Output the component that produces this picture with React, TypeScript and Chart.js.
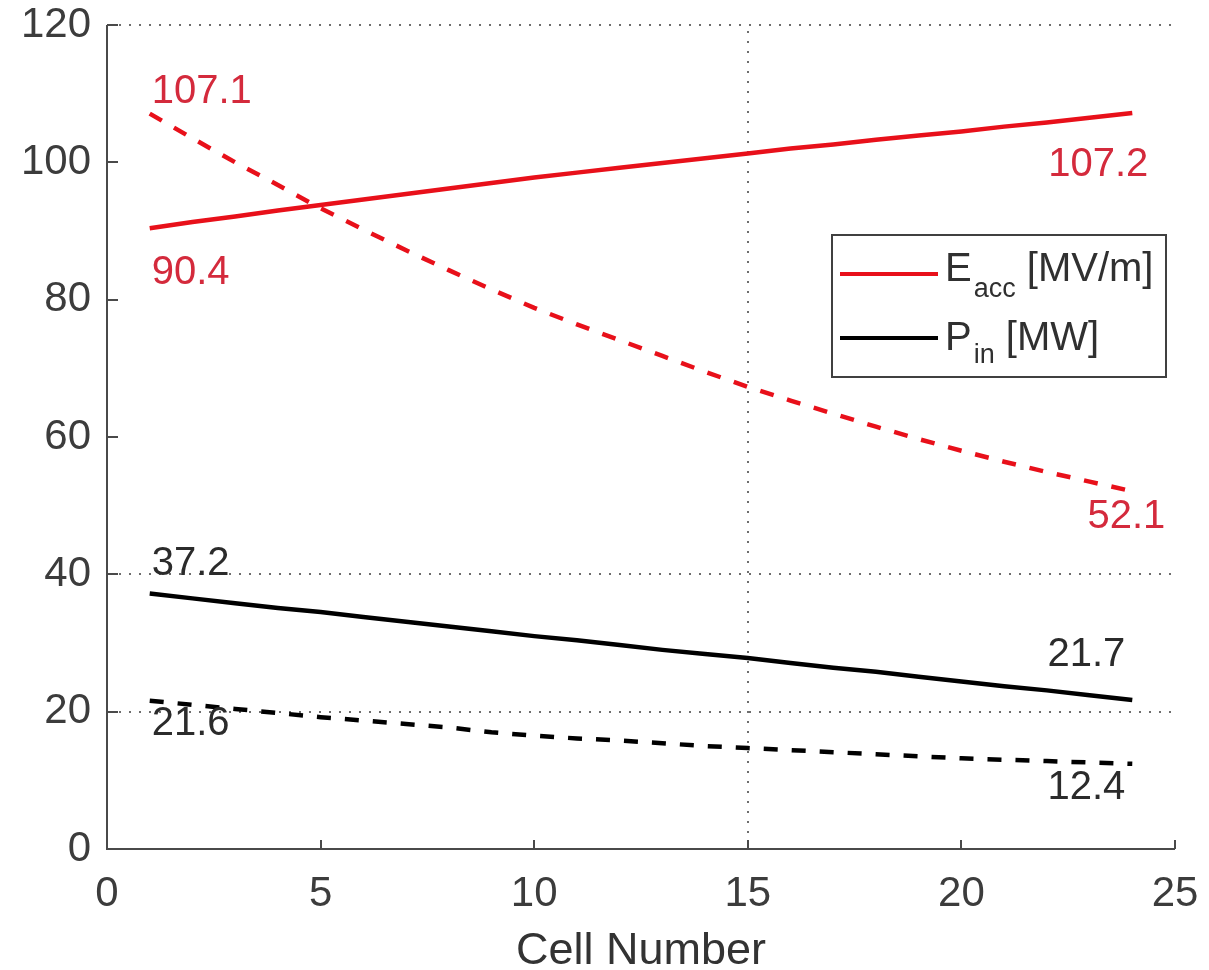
import React, { useEffect, useRef } from "react";
import { Chart, registerables } from "chart.js";

Chart.register(...registerables);

// ---------- data ----------
const cells = [1, 2, 3, 4, 5, 6, 7, 8, 9, 10, 11, 12, 13, 14, 15, 16, 17, 18, 19, 20, 21, 22, 23, 24];
const eaccSolid = [90.4, 91.3, 92.1, 93.0, 93.8, 94.6, 95.4, 96.2, 97.0, 97.8, 98.5, 99.2, 99.9, 100.6, 101.3, 102.0, 102.6, 103.3, 103.9, 104.5, 105.2, 105.8, 106.5, 107.2];
const eaccDashed = [107.1, 103.5, 100.0, 96.7, 93.3, 90.2, 87.2, 84.3, 81.5, 78.8, 76.4, 74.1, 71.8, 69.5, 67.3, 65.3, 63.4, 61.5, 59.7, 58.0, 56.4, 54.9, 53.5, 52.1];
const pinSolid = [37.2, 36.5, 35.8, 35.1, 34.5, 33.8, 33.1, 32.4, 31.7, 31.0, 30.4, 29.7, 29.0, 28.4, 27.8, 27.1, 26.4, 25.8, 25.1, 24.4, 23.7, 23.1, 22.4, 21.7];
const pinDashed = [21.6, 21.0, 20.4, 19.8, 19.2, 18.7, 18.2, 17.7, 17.0, 16.5, 16.1, 15.8, 15.4, 15.0, 14.7, 14.4, 14.1, 13.8, 13.5, 13.2, 13.0, 12.8, 12.6, 12.4];

const xTicks = [0, 5, 10, 15, 20, 25];
const yTicks = [0, 20, 40, 60, 80, 100, 120];
const gridXValues = [15];
const gridYValues = [20, 40, 120];

const xTitle = "Cell Number";
const legendEacc = { main: "E", sub: "acc", unit: " [MV/m]" };
const legendPin = { main: "P", sub: "in", unit: " [MW]" };

// end-point value labels: dataset index, point index, text
const endLabels = [
  { ds: 1, idx: 0, text: "107.1" },
  { ds: 0, idx: 0, text: "90.4" },
  { ds: 0, idx: 23, text: "107.2" },
  { ds: 1, idx: 23, text: "52.1" },
  { ds: 2, idx: 0, text: "37.2" },
  { ds: 3, idx: 0, text: "21.6" },
  { ds: 2, idx: 23, text: "21.7" },
  { ds: 3, idx: 23, text: "12.4" },
];

// ---------- styling / placement (not data) ----------
const FONT = '"Liberation Sans", Arial, Helvetica, sans-serif';
const RED = "#e8101a";
const BLACK = "#000000";
const RED_TEXT = "#d42a3c";
const DARK_TEXT = "#2b2b2b";

const labelPlacement: Record<string, { dx: number; dy: number; align: CanvasTextAlign; color: string }> = {
  "1-0": { dx: 2, dy: -22, align: "left", color: RED_TEXT },
  "0-0": { dx: 2, dy: 45, align: "left", color: RED_TEXT },
  "0-23": { dx: 16, dy: 52, align: "right", color: RED_TEXT },
  "1-23": { dx: 33, dy: 26, align: "right", color: RED_TEXT },
  "2-0": { dx: 2, dy: -30, align: "left", color: DARK_TEXT },
  "3-0": { dx: 2, dy: 23, align: "left", color: DARK_TEXT },
  "2-23": { dx: -7, dy: -45, align: "right", color: DARK_TEXT },
  "3-23": { dx: -7, dy: 24, align: "right", color: DARK_TEXT },
};

const framePlugin = {
  id: "frame",
  beforeDatasetsDraw(chart: any) {
    const { ctx, chartArea: ca, scales } = chart;
    const x = scales.x;
    const y = scales.y;
    ctx.save();
    // dotted grid lines
    ctx.strokeStyle = "#6e6e6e";
    ctx.lineWidth = 2;
    ctx.setLineDash([2, 8]);
    gridYValues.forEach((v) => {
      const py = Math.round(y.getPixelForValue(v));
      ctx.beginPath();
      ctx.moveTo(ca.left + 12, py);
      ctx.lineTo(ca.right - 2, py);
      ctx.stroke();
    });
    gridXValues.forEach((v) => {
      const px = Math.round(x.getPixelForValue(v));
      ctx.beginPath();
      ctx.moveTo(px, ca.top + 6);
      ctx.lineTo(px, ca.bottom);
      ctx.stroke();
    });
    ctx.setLineDash([]);
    // axes
    ctx.strokeStyle = "#4a4a4a";
    ctx.lineWidth = 2;
    ctx.beginPath();
    ctx.moveTo(ca.left, ca.top);
    ctx.lineTo(ca.left, ca.bottom);
    ctx.lineTo(ca.right, ca.bottom);
    ctx.stroke();
    // inward tick marks
    xTicks.slice(1).forEach((v) => {
      const px = Math.round(x.getPixelForValue(v));
      ctx.beginPath();
      ctx.moveTo(px, ca.bottom);
      ctx.lineTo(px, ca.bottom - 9);
      ctx.stroke();
    });
    yTicks.slice(1).forEach((v) => {
      const py = Math.round(y.getPixelForValue(v));
      ctx.beginPath();
      ctx.moveTo(ca.left, py);
      ctx.lineTo(ca.left + 11, py);
      ctx.stroke();
    });
    ctx.restore();
  },
  afterDatasetsDraw(chart: any) {
    const { ctx } = chart;
    ctx.save();
    // end-point labels
    ctx.font = `40px ${FONT}`;
    ctx.textBaseline = "middle";
    endLabels.forEach((l) => {
      const p = labelPlacement[`${l.ds}-${l.idx}`];
      const pt = chart.getDatasetMeta(l.ds).data[l.idx];
      ctx.fillStyle = p.color;
      ctx.textAlign = p.align;
      ctx.fillText(l.text, pt.x + p.dx, pt.y + p.dy);
    });
    // legend box
    const bx = 832, by = 235, bw = 334, bh = 142;
    ctx.fillStyle = "#ffffff";
    ctx.fillRect(bx, by, bw, bh);
    ctx.strokeStyle = "#404040";
    ctx.lineWidth = 2;
    ctx.strokeRect(bx, by, bw, bh);
    const entries = [
      { color: RED, lineY: 274, base: 281, subBase: 297, t: legendEacc },
      { color: BLACK, lineY: 338, base: 350, subBase: 363, t: legendPin },
    ];
    entries.forEach((e) => {
      ctx.strokeStyle = e.color;
      ctx.lineWidth = 4;
      ctx.beginPath();
      ctx.moveTo(840, e.lineY);
      ctx.lineTo(938, e.lineY);
      ctx.stroke();
      ctx.fillStyle = "#303030";
      ctx.textAlign = "left";
      ctx.textBaseline = "alphabetic";
      let tx = 945;
      ctx.font = `40px ${FONT}`;
      ctx.fillText(e.t.main, tx, e.base);
      tx += ctx.measureText(e.t.main).width + 2;
      ctx.font = `27px ${FONT}`;
      ctx.fillText(e.t.sub, tx, e.subBase);
      tx += ctx.measureText(e.t.sub).width;
      ctx.font = `40px ${FONT}`;
      ctx.fillText(e.t.unit, tx, e.base);
    });
    ctx.restore();
  },
};

export default function App() {
  const canvasRef = useRef<HTMLCanvasElement | null>(null);

  useEffect(() => {
    if (!canvasRef.current) return;
    const tickFont = { family: FONT, size: 42 };
    const chart = new Chart(canvasRef.current, {
      type: "line",
      data: {
        labels: cells,
        datasets: [
          { label: "Eacc", data: cells.map((c, i) => ({ x: c, y: eaccSolid[i] })), borderColor: RED, borderWidth: 4.5, pointRadius: 0, fill: false, tension: 0 },
          { label: "Eacc dashed", data: cells.map((c, i) => ({ x: c, y: eaccDashed[i] })), borderColor: RED, borderWidth: 4.5, borderDash: [14, 14], pointRadius: 0, fill: false, tension: 0 },
          { label: "Pin", data: cells.map((c, i) => ({ x: c, y: pinSolid[i] })), borderColor: BLACK, borderWidth: 4.5, pointRadius: 0, fill: false, tension: 0 },
          { label: "Pin dashed", data: cells.map((c, i) => ({ x: c, y: pinDashed[i] })), borderColor: BLACK, borderWidth: 4.5, borderDash: [14, 14], pointRadius: 0, fill: false, tension: 0 },
        ],
      },
      options: {
        responsive: false,
        animation: false,
        layout: { padding: { left: 0, right: 34, top: 25, bottom: 0 } },
        plugins: { legend: { display: false }, tooltip: { enabled: false }, title: { display: false } },
        scales: {
          x: {
            type: "linear",
            min: 0,
            max: 25,
            afterBuildTicks: (s: any) => { s.ticks = xTicks.map((v) => ({ value: v })); },
            afterFit: (s: any) => { s.height = 121; s.paddingLeft = 0; s.paddingRight = 0; },
            grid: { display: false, drawTicks: false },
            border: { display: false },
            ticks: { font: tickFont, color: "#3c3c3c", padding: 20, maxRotation: 0, autoSkip: false },
            title: { display: true, text: xTitle, font: { family: FONT, size: 45, lineHeight: 1 }, color: "#333333", padding: { top: 0, bottom: -4 } },
          },
          y: {
            type: "linear",
            min: 0,
            max: 120,
            afterBuildTicks: (s: any) => { s.ticks = yTicks.map((v) => ({ value: v })); },
            afterFit: (s: any) => { s.width = 107; s.paddingTop = 0; s.paddingBottom = 0; },
            grid: { display: false, drawTicks: false },
            border: { display: false },
            ticks: { font: tickFont, color: "#3c3c3c", padding: 16 },
          },
        },
      },
      plugins: [framePlugin],
    } as any);
    return () => chart.destroy();
  }, []);

  return (
    <div style={{ position: "absolute", left: 0, top: 0, width: 1209, height: 970, background: "#ffffff" }}>
      <canvas ref={canvasRef} width={1209} height={970} style={{ display: "block" }} />
    </div>
  );
}
